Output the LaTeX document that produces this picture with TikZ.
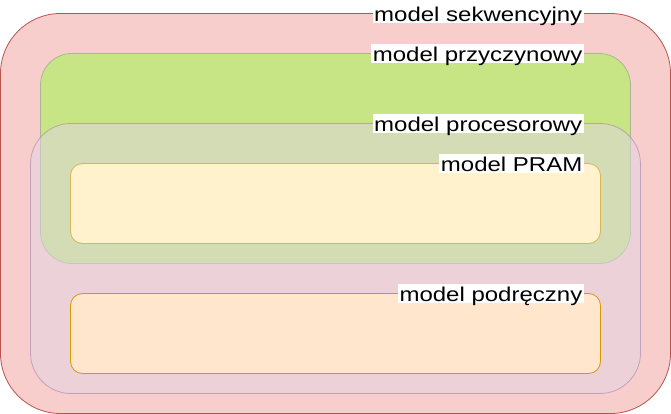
\documentclass[tikz,border=0pt]{standalone}
\usepackage{fontspec}
\setmainfont{Liberation Sans}
\newfontfamily\labfont[FakeStretch=1.2]{Liberation Sans}
\definecolor{redfill}{HTML}{F8CECC}
\definecolor{redline}{HTML}{B85450}
\definecolor{greenfill}{RGB}{199,229,132}
\definecolor{greenline}{RGB}{172,182,150}
\definecolor{purplefill}{HTML}{E1D5E7}
\definecolor{purpleline}{HTML}{9673A6}
\definecolor{yellowfill}{HTML}{FFF2CC}
\definecolor{yellowline}{HTML}{D6B656}
\definecolor{orangefill}{HTML}{FFE6CC}
\definecolor{orangeline}{HTML}{D79B00}
\tikzset{
  box/.style={line width=0.8pt},
  lab/.style={fill=white, anchor=east, inner xsep=1.5pt, inner ysep=0pt,
    text height=17.5pt, text depth=1.5pt, font=\labfont\fontsize{20}{24}\selectfont}
}
\begin{document}
\begin{tikzpicture}[x=1pt,y=-1pt]
\useasboundingbox (0,0) rectangle (671,414);
\draw[box, fill=redfill, draw=redline, rounded corners=60pt] (0.5,13.5) rectangle (670.5,413.5);
\draw[box, fill=greenfill, draw=greenline, rounded corners=31.5pt] (40.5,53.5) rectangle (630.5,263.5);
\draw[box, fill=purplefill, draw=purpleline, opacity=0.5, rounded corners=40.5pt] (30.5,123.5) rectangle (640.5,393.5);
\draw[box, fill=yellowfill, draw=yellowline, rounded corners=12pt] (70.5,163.5) rectangle (600.5,243.5);
\draw[box, fill=orangefill, draw=orangeline, rounded corners=12pt] (70.5,293.5) rectangle (600.5,373.5);
\coordinate (c1) at (584,13.5);
\coordinate (c2) at (584,53.5);
\coordinate (c3) at (584,123.5);
\coordinate (c4) at (584,163.5);
\coordinate (c5) at (584,293.5);
\node[lab] (l1) at (c1) {model sekwencyjny};
\node[lab] (l2) at (c2) {model przyczynowy};
\node[lab] (l3) at (c3) {model procesorowy};
\node[lab] (l4) at (c4) {model PRAM};
\node[lab] (l5) at (c5) {model podręczny};
\end{tikzpicture}
\end{document}
